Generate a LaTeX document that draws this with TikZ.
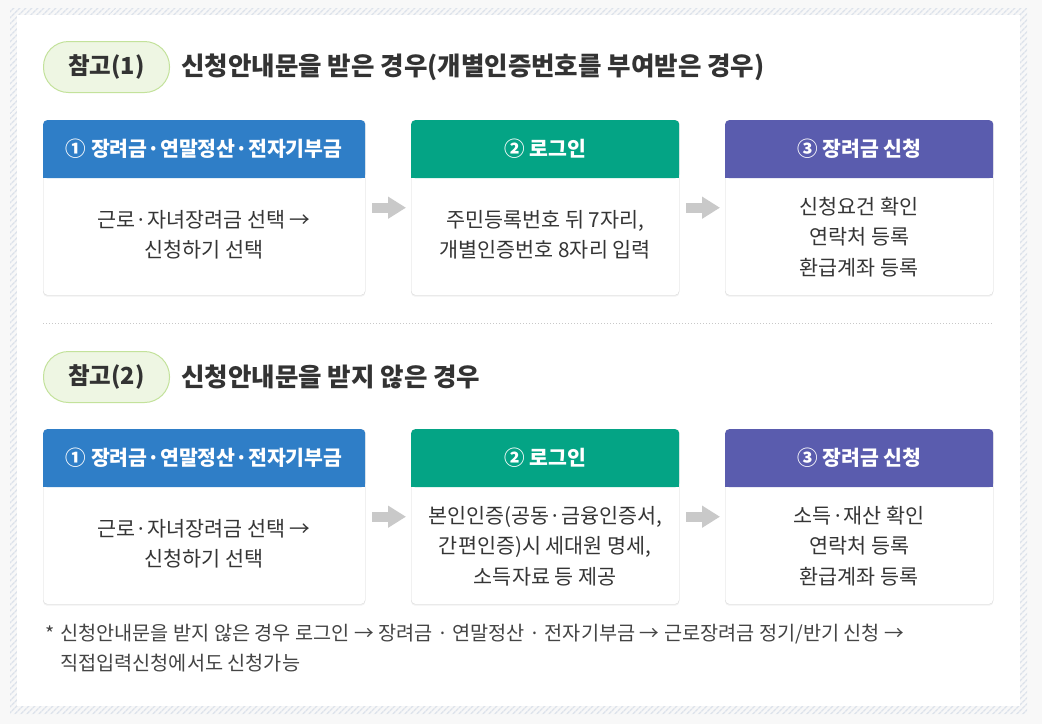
\documentclass[tikz,border=0pt]{standalone}
\usepackage{fontspec}
\setmainfont{Noto Sans CJK KR}
\usetikzlibrary{arrows.meta,patterns.meta,calc,shadows}
\definecolor{hdrblue}{HTML}{2F7EC7}
\definecolor{hdrgreen}{HTML}{04A485}
\definecolor{hdrpurple}{HTML}{5A5CAE}
\definecolor{badgefill}{HTML}{EEF6E3}
\definecolor{badgeline}{HTML}{C3E29B}
\definecolor{boxline}{HTML}{DADADA}
\definecolor{txt}{HTML}{333333}
\definecolor{bodytxt}{HTML}{353535}
\definecolor{foottxt}{HTML}{444444}
\definecolor{arrowgray}{HTML}{C9C9C9}
\definecolor{stripe}{HTML}{DCE2EB}
\definecolor{outerbg}{HTML}{F8F8F8}
\definecolor{sepgray}{HTML}{C8C8C8}
\begin{document}
\begin{tikzpicture}[x=1pt,y=-1pt,
  badge/.style={draw=badgeline, fill=badgefill, line width=1pt, rounded corners=25pt,
    minimum width=126pt, minimum height=51pt, inner sep=0pt,
    font=\fontsize{23.5}{27}\selectfont\bfseries, text=txt},
  titletext/.style={anchor=west, font=\fontsize{25.5}{30}\selectfont\bfseries, text=txt, inner sep=0pt},
  card/.style={draw=boxline, fill=white, rounded corners=4pt, anchor=north west,
    minimum height=175pt, inner sep=0pt,
    drop shadow={shadow xshift=0pt, shadow yshift=-1.5pt, opacity=0.10}},
  hdr/.style={rounded corners=4pt, anchor=north, minimum height=58pt, inner sep=0pt,
    text=white, font=\fontsize{20.5}{24}\selectfont\bfseries},
  bodytext/.style={align=center, text=bodytxt, font=\fontsize{20.7}{30.5}\selectfont, inner sep=0pt},
  flow/.style={draw=arrowgray, line width=10pt, -{Triangle[length=18pt,width=21pt]},
    shorten <=7pt, shorten >=5pt},
  foot/.style={anchor=west, text=foottxt, font=\fontsize{19.7}{24}\selectfont, inner sep=0pt}
]
\useasboundingbox (0,0) rectangle (1042,724);
% page frame
\fill[outerbg] (0,0) rectangle (1042,724);
\fill[pattern={Lines[angle=45,distance=4pt,line width=1.5pt]}, pattern color=stripe, even odd rule]
  (10,8) rectangle (1027,714) (17,15) rectangle (1020,706);
\fill[white] (17,15) rectangle (1020,706);

% ---------- section 1 ----------
\node[badge, anchor=north west] (bd1) at (43,41) {참고(1)};
\node[titletext] (tt1) at ($(bd1.east)+(11,0)$) {신청안내문을 받은 경우(개별인증번호를 부여받은 경우)};

\node[card, minimum width=322pt] (b11) at (43,120) {};
\node[card, minimum width=268pt] (b12) at (411,120) {};
\node[card, minimum width=268pt] (b13) at (725,120) {};

\node[hdr, fill=hdrblue, minimum width=322pt] (h11) at (b11.north) {① 장려금·연말정산·전자기부금};
\fill[hdrblue] ($(h11.south west)+(0,-6)$) rectangle (h11.south east);
\node[hdr, fill=hdrgreen, minimum width=268pt] (h12) at (b12.north) {② 로그인};
\fill[hdrgreen] ($(h12.south west)+(0,-6)$) rectangle (h12.south east);
\node[hdr, fill=hdrpurple, minimum width=268pt] (h13) at (b13.north) {③ 장려금 신청};
\fill[hdrpurple] ($(h13.south west)+(0,-6)$) rectangle (h13.south east);

\node[bodytext] (t11) at ($($(h11.south)!0.5!(b11.south)$)+(0,-2)$) {근로·자녀장려금 선택 →\\신청하기 선택};
\node[bodytext] (t12) at ($($(h12.south)!0.5!(b12.south)$)+(0,-2)$) {주민등록번호 뒤 7자리,\\개별인증번호 8자리 입력};
\node[bodytext] (t13) at ($(h13.south)!0.5!(b13.south)$) {신청요건 확인\\연락처 등록\\환급계좌 등록};

\draw[flow] (b11.east) -- (b12.west);
\draw[flow] (b12.east) -- (b13.west);

% separator
\draw[sepgray, line width=1pt, dash pattern=on 1pt off 2pt] (43,323) -- (992,323);

% ---------- section 2 ----------
\node[badge, anchor=north west] (bd2) at (43,351) {참고(2)};
\node[titletext] (tt2) at ($(bd2.east)+(11,0)$) {신청안내문을 받지 않은 경우};

\node[card, minimum width=322pt] (b21) at (43,429) {};
\node[card, minimum width=268pt] (b22) at (411,429) {};
\node[card, minimum width=268pt] (b23) at (725,429) {};

\node[hdr, fill=hdrblue, minimum width=322pt] (h21) at (b21.north) {① 장려금·연말정산·전자기부금};
\fill[hdrblue] ($(h21.south west)+(0,-6)$) rectangle (h21.south east);
\node[hdr, fill=hdrgreen, minimum width=268pt] (h22) at (b22.north) {② 로그인};
\fill[hdrgreen] ($(h22.south west)+(0,-6)$) rectangle (h22.south east);
\node[hdr, fill=hdrpurple, minimum width=268pt] (h23) at (b23.north) {③ 장려금 신청};
\fill[hdrpurple] ($(h23.south west)+(0,-6)$) rectangle (h23.south east);

\node[bodytext] (t21) at ($($(h21.south)!0.5!(b21.south)$)+(0,-2)$) {근로·자녀장려금 선택 →\\신청하기 선택};
\node[bodytext] (t22) at ($(h22.south)!0.5!(b22.south)$) {본인인증(공동·금융인증서,\\간편인증)시 세대원 명세,\\소득자료 등 제공};
\node[bodytext] (t23) at ($(h23.south)!0.5!(b23.south)$) {소득·재산 확인\\연락처 등록\\환급계좌 등록};

\draw[flow] (b21.east) -- (b22.west);
\draw[flow] (b22.east) -- (b23.west);

% ---------- footnote ----------
\node[foot] (star) at (45,634) {*};
\node[foot] (fn1) at (60,634) {신청안내문을 받지 않은 경우 로그인 → 장려금 · 연말정산 · 전자기부금 → 근로장려금 정기/반기 신청 →};
\node[foot] (fn2) at (60,663) {직접입력신청에서도 신청가능};
\end{tikzpicture}
\end{document}
